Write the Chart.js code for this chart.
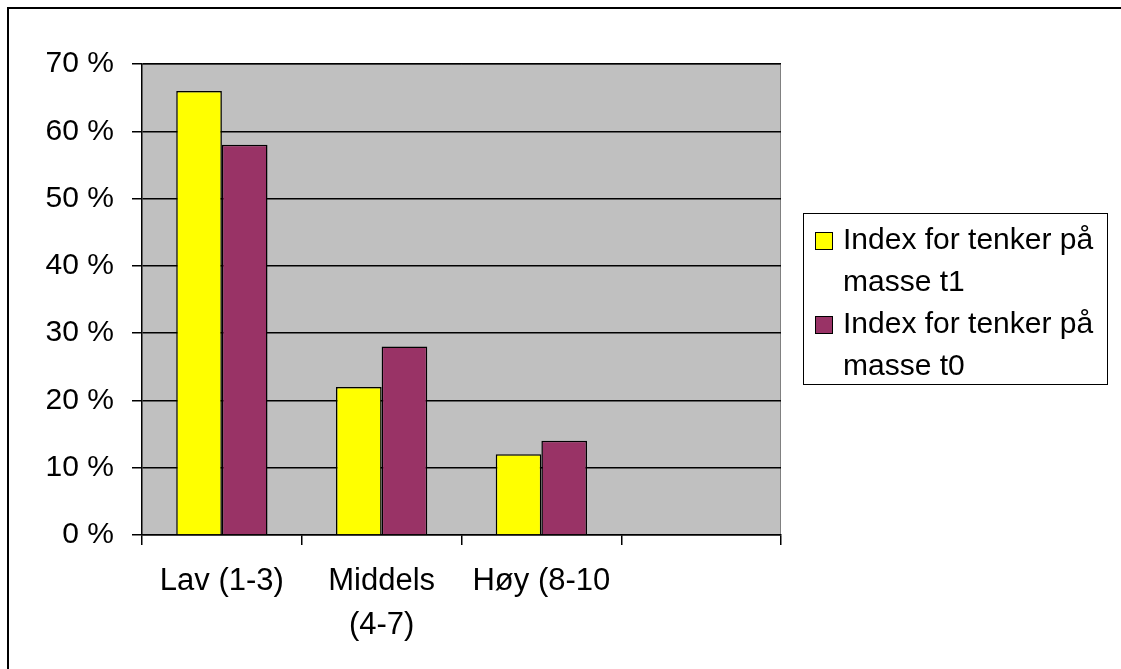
<!DOCTYPE html>
<html>
<head>
<meta charset="utf-8">
<script src="https://cdn.jsdelivr.net/npm/chart.js@4/dist/chart.umd.min.js"></script>
<style>
  html, body { margin: 0; padding: 0; background: #fff; overflow: hidden; }
  #frame {
    position: absolute; left: 7px; top: 7px; width: 1200px; height: 800px;
    border-top: 2px solid #000; border-left: 2px solid #000;
  }
  #wrap { position: absolute; left: 0; top: 0; width: 1121px; height: 669px; }
  #legend {
    position: absolute; left: 803px; top: 213px; width: 305px; height: 172px;
    border: 1px solid #000; background: #fff; box-sizing: border-box;
    font-family: 'Liberation Sans', Arial, sans-serif; font-size: 30px; color: #000;
    padding: 4px 0 0 11px;
  }
  .item { position: relative; padding-left: 28px; line-height: 42px; }
  .swatch {
    position: absolute; left: 0; top: 14px; width: 16px; height: 16px;
    border: 1px solid #000;
  }
</style>
</head>
<body>
<div id="frame"></div>
<div id="wrap"><canvas id="chart" width="1121" height="669"></canvas></div>
<div id="legend"></div>
<script>
// data
const categories = ['Lav (1-3)', ['Middels', '(4-7)'], 'Høy (8-10', ''];
const seriesNames = ['Index for tenker på masse t1', 'Index for tenker på masse t0'];
const seriesColors = ['#ffff00', '#993366'];
const t1Values = [66, 22, 12, null];
const t0Values = [58, 28, 14, null];
const yTicks = [0, 10, 20, 30, 40, 50, 60, 70];

const FONT_FAMILY = "'Liberation Sans', Arial, sans-serif";

// grå bakgrunn i plottområdet
const plotBg = {
  id: 'plotBg',
  beforeDraw(chart) {
    const { ctx, chartArea: a } = chart;
    ctx.save();
    ctx.fillStyle = '#c0c0c0';
    ctx.fillRect(a.left, a.top, a.right - a.left, a.bottom - a.top);
    ctx.strokeStyle = '#808080';
    ctx.lineWidth = 1;
    ctx.beginPath();
    ctx.moveTo(a.left, a.top + 0.5);
    ctx.lineTo(a.right - 0.5, a.top + 0.5);
    ctx.lineTo(a.right - 0.5, a.bottom);
    ctx.stroke();
    ctx.restore();
  }
};

const chart = new Chart(document.getElementById('chart'), {
  type: 'bar',
  data: {
    labels: categories,
    datasets: [
      { label: seriesNames[0], data: t1Values, backgroundColor: seriesColors[0], borderColor: '#000', borderWidth: 1.5 },
      { label: seriesNames[1], data: t0Values, backgroundColor: seriesColors[1], borderColor: '#000', borderWidth: 1.5 }
    ]
  },
  options: {
    responsive: false,
    animation: false,
    layout: { padding: { left: 0, right: 340, top: 64, bottom: 0 } },
    datasets: { bar: { categoryPercentage: 2 / 3.5, barPercentage: 1 } },
    plugins: { legend: { display: false }, tooltip: { enabled: false } },
    scales: {
      x: {
        afterFit(s) { s.height = 134; },
        grid: { offset: true, drawOnChartArea: false, tickLength: 10, color: '#000', lineWidth: 1.5 },
        border: { color: '#000', width: 1.5 },
        ticks: { color: '#000', font: { family: FONT_FAMILY, size: 31, lineHeight: 1.4 }, padding: 15, maxRotation: 0, autoSkip: false }
      },
      y: {
        min: 0,
        max: 70,
        afterFit(s) { s.width = 142; },
        afterBuildTicks(s) { s.ticks = yTicks.map(v => ({ value: v })); },
        grid: { color: '#000', lineWidth: 1.5, tickLength: 10 },
        border: { color: '#000', width: 1.5 },
        ticks: { color: '#000', font: { family: FONT_FAMILY, size: 30 }, padding: 18, callback: v => v + ' %' }
      }
    }
  },
  plugins: [plotBg]
});

// forklaring med linjeskift som i originalen
const legend = document.getElementById('legend');
seriesNames.forEach((name, i) => {
  const item = document.createElement('div');
  item.className = 'item';
  item.innerHTML = '<span class="swatch" style="background:' + seriesColors[i] + '"></span>' +
    name.replace(' masse', '<br>masse');
  legend.appendChild(item);
});
</script>
</body>
</html>
